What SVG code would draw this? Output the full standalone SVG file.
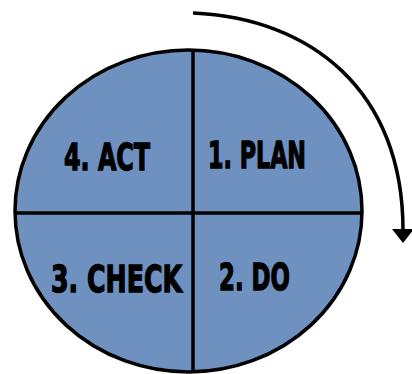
<svg xmlns="http://www.w3.org/2000/svg" width="412" height="374" viewBox="0 0 412 374">
  <style>
    .disc { fill: #6e91bf; stroke: #000; stroke-width: 3.5; }
    .divider { stroke: #000; stroke-width: 3.5; fill: none; }
    .flow { stroke: #000; stroke-width: 3.5; fill: none; }
    .label { font-family: "DejaVu Sans Condensed", "DejaVu Sans", "Liberation Sans", sans-serif; font-stretch: condensed; font-weight: bold; font-size: 30px; fill: #000; stroke: #000; stroke-width: 1; }
  </style>
  <defs>
    <marker id="arrowhead" markerUnits="userSpaceOnUse" markerWidth="14" markerHeight="22" refX="1" refY="11" orient="auto" viewBox="0 0 14 22">
      <path d="M0,0 L14,11 L0,22 Z" fill="#000"/>
    </marker>
  </defs>

  <!-- cycle disc with cross dividers -->
  <g id="cycle">
    <ellipse class="disc" cx="188.5" cy="211" rx="173.5" ry="161"/>
    <line class="divider" x1="193" y1="50" x2="193" y2="372"/>
    <line class="divider" x1="15" y1="213" x2="362" y2="213"/>
  </g>

  <!-- labels are stretched vertically for a tall, condensed look -->
  <g id="plan" transform="translate(208,168) scale(1,1.27)">
    <text class="label" x="0" y="0" textLength="98" lengthAdjust="spacingAndGlyphs">1. PLAN</text>
  </g>
  <g id="do" transform="translate(219,290) scale(1,1.27)">
    <text class="label" x="0" y="0" textLength="71" lengthAdjust="spacingAndGlyphs">2. DO</text>
  </g>
  <g id="check" transform="translate(51,292) scale(1,1.27)">
    <text class="label" x="0" y="0" textLength="131" lengthAdjust="spacingAndGlyphs">3. CHECK</text>
  </g>
  <g id="act" transform="translate(64,170) scale(1,1.27)">
    <text class="label" x="0" y="0" textLength="86" lengthAdjust="spacingAndGlyphs">4. ACT</text>
  </g>

  <!-- clockwise direction arrow -->
  <g id="connectors">
    <path class="flow" d="M193,13 C310,18 403,90 403,230" marker-end="url(#arrowhead)"/>
  </g>
</svg>
